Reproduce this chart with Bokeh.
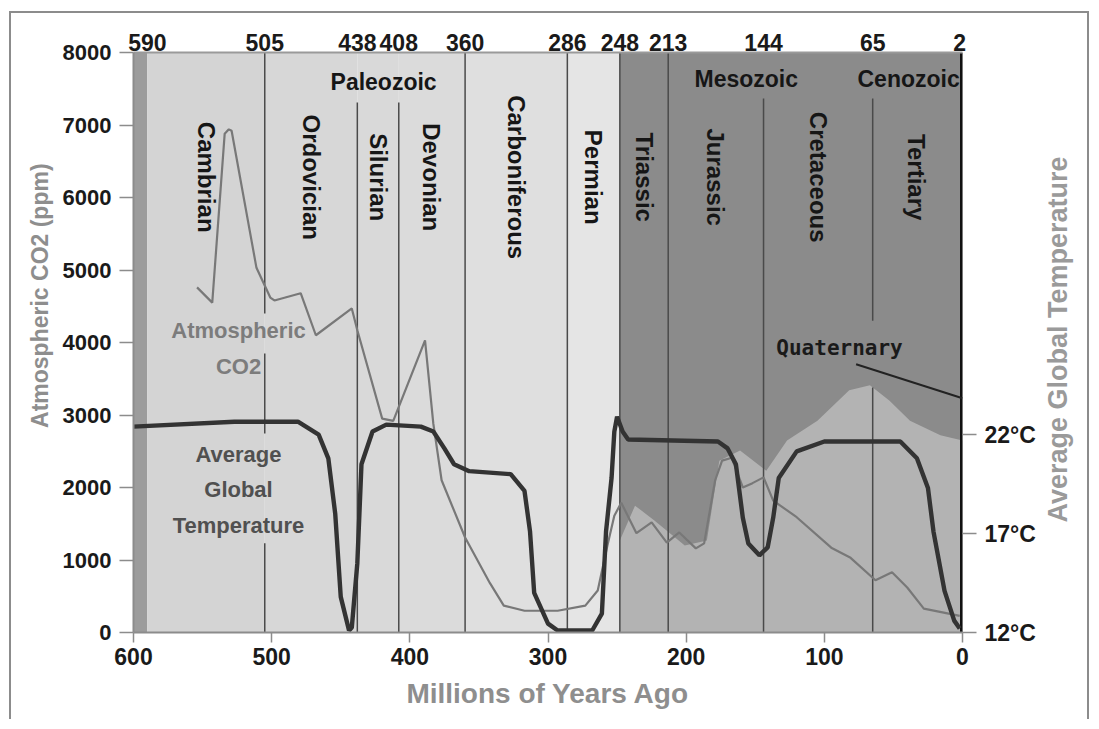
import math
from bokeh.plotting import figure
from bokeh.models import Range1d, LinearAxis, FixedTicker
from bokeh.core.properties import value
from bokeh.embed import file_html
from bokeh.resources import INLINE

# ---------------- data ----------------
boundaries = [590, 505, 438, 408, 360, 286, 248, 213, 144, 65, 2]
periods = ["Cambrian", "Ordovician", "Silurian", "Devonian", "Carboniferous",
           "Permian", "Triassic", "Jurassic", "Cretaceous", "Tertiary"]
eras = ["Paleozoic", "Mesozoic", "Cenozoic"]
era_start = [590, 248, 65]
era_end = [248, 65, 2]

x_ticks = [600, 500, 400, 300, 200, 100, 0]
co2_ticks = [0, 1000, 2000, 3000, 4000, 5000, 6000, 7000, 8000]
temp_ticks = [12, 17, 22]
temp_tick_labels = ["12°C", "17°C", "22°C"]

co2_age = [554, 543, 534, 531, 529, 511, 501, 498, 479, 468, 442, 438, 420, 412,
           389, 383, 377, 360, 342, 332, 317, 293, 273, 264, 257, 252, 247, 236,
           225, 214, 205, 193, 187, 179, 174, 167, 159, 152, 144, 137, 120, 95,
           81, 63, 51, 40, 28, 10, 2]
co2_ppm = [4760, 4550, 6880, 6940, 6920, 5030, 4620, 4580, 4680, 4100, 4470, 4170,
           2950, 2920, 4030, 2880, 2100, 1310, 680, 370, 300, 300, 370, 580, 1200,
           1610, 1790, 1370, 1520, 1240, 1380, 1160, 1230, 2100, 2370, 2410, 2000,
           2060, 2140, 1820, 1590, 1170, 1030, 720, 830, 620, 330, 260, 230]

temp_age = [600, 527, 481, 466, 459, 454, 450, 444, 442, 438, 435, 427, 417, 392,
            383, 375, 368, 357, 327, 317, 313, 310, 300, 293, 268, 261, 258, 254,
            252, 250, 246, 242, 177, 170, 164, 159, 155, 147, 141, 137, 133, 120,
            100, 45, 33, 25, 21, 13, 6, 2]
temp_c = [22.4, 22.65, 22.65, 22.0, 20.8, 18.0, 13.8, 12.1, 12.25, 15.5, 20.5, 22.15,
          22.5, 22.4, 22.15, 21.3, 20.5, 20.15, 20.0, 19.15, 17.1, 14.0, 12.45, 12.1,
          12.1, 12.95, 17.1, 19.8, 22.15, 22.9, 22.15, 21.75, 21.65, 21.3, 20.5, 17.8,
          16.5, 15.9, 16.3, 17.8, 19.8, 21.15, 21.65, 21.65, 20.8, 19.3, 17.1, 14.1,
          12.6, 12.2]

# lighter shading in the lower part of the Mesozoic / Cenozoic background
light_age = [248, 237, 223, 201, 185, 176, 161, 142, 127, 105, 82, 67, 53, 38, 16, 0]
light_ppm = [1270, 1750, 1545, 1200, 1270, 2370, 2510, 2230, 2650, 2920, 3340, 3410,
             3200, 2920, 2720, 2650]

quaternary_age = [77, 0]
quaternary_ppm = [3700, 3230]

# ---------------- figure ----------------
SANS = "Liberation Sans"

p = figure(width=1080, height=708, x_range=Range1d(600, 0), y_range=Range1d(0, 8000),
           output_backend="svg", toolbar_location=None,
           min_border_left=121, min_border_right=125, min_border_top=39, min_border_bottom=89)
p.extra_y_ranges = {"temp": Range1d(12, 41.3)}
p.grid.visible = False
p.outline_line_color = None
p.background_fill_color = "white"
p.border_fill_color = "white"
p.styles = {"margin-left": "9px", "margin-top": "11px",
            "border-top": "2px solid #8c8c8c", "border-left": "2px solid #8c8c8c",
            "border-right": "2px solid #8c8c8c"}

# background bands
p.quad(left=[600], right=[590], bottom=0, top=8000, fill_color="#9c9c9c", line_color=None)
pal_fill = ["#d4d4d4", "#d7d7d7", "#d9d9d9", "#dbdbdb", "#dfdfdf", "#e5e5e5"]
p.quad(left=boundaries[:6], right=boundaries[1:7], bottom=0, top=8000,
       fill_color=pal_fill, line_color=None)
p.quad(left=[248], right=[0], bottom=0, top=8000, fill_color="#8b8b8b", line_color=None)
p.varea(x=light_age, y1=[0] * len(light_age), y2=light_ppm, fill_color="#b3b3b3")

# period boundary lines (with gaps around labels)
spans = {505: [(0, 1230), (2745, 3850), (4400, 8000)], 438: [(0, 7310)], 408: [(0, 7310)],
         360: [(0, 8000)], 286: [(0, 8000)], 248: [(0, 8000)], 213: [(0, 8000)],
         144: [(0, 7365)], 65: [(0, 3380), (4300, 7365)]}
sx, sy0, sy1 = [], [], []
for b in boundaries:
    for (a, c) in spans.get(b, []):
        sx.append(b); sy0.append(a); sy1.append(c)
p.segment(x0=sx, x1=sx, y0=sy0, y1=sy1, line_color="#4a4a4a", line_width=1.5)
p.segment(x0=[0], x1=[0], y0=[0], y1=[8000], line_color="#111111", line_width=5)

# curves
p.line(co2_age, co2_ppm, line_color="#787878", line_width=2.2)
p.line(temp_age, temp_c, y_range_name="temp", line_color="#333333", line_width=4.4)

# quaternary pointer
p.line(quaternary_age, quaternary_ppm, line_color="#222222", line_width=2)

# period labels
mids = [(a + b) / 2 for a, b in zip(boundaries[:-1], boundaries[1:])]
p.text(x=mids, y=[6280] * len(mids), text=periods, angle=-math.pi / 2,
       text_align="center", text_baseline="middle", text_font=value(SANS),
       text_font_style="bold", text_font_size="24px", text_color="#161616")

# era labels
era_mid = [(a + b) / 2 for a, b in zip(era_start, era_end)]
p.text(x=era_mid[:2], y=[7600, 7640], text=eras[:2], text_align="center",
       text_baseline="middle", text_font=value(SANS), text_font_style="bold",
       text_font_size="23px", text_color="#161616")
p.text(x=[era_end[2]], y=[7640], text=[eras[2]], text_align="right",
       text_baseline="middle", text_font=value(SANS), text_font_style="bold",
       text_font_size="23px", text_color="#161616")

# series annotations
p.text(x=[524], y=[3917], text=["Atmospheric\nCO2"], text_align="center",
       text_baseline="middle", text_font=value(SANS), text_font_style="bold",
       text_font_size="22px", text_color="#7c7c7c", text_line_height=1.45)
p.text(x=[524], y=[1972], text=["Average\nGlobal\nTemperature"], text_align="center",
       text_baseline="middle", text_font=value(SANS), text_font_style="bold",
       text_font_size="22px", text_color="#505050", text_line_height=1.42)
p.text(x=[89], y=[3930], text=["Quaternary"], text_align="center",
       text_baseline="middle", text_font=value("DejaVu Sans Mono"), text_font_style="bold",
       text_font_size="21px", text_color="#1a1a1a")

# ---------------- axes ----------------
def style_axis(ax, size="23px"):
    ax.major_label_text_font = SANS
    ax.major_label_text_font_style = "bold"
    ax.major_label_text_font_size = size
    ax.major_label_text_color = "#1a1a1a"
    ax.minor_tick_line_color = None
    ax.major_tick_in = 0
    ax.axis_line_color = "#8c8c8c"
    ax.axis_line_width = 2
    ax.major_tick_line_color = "#8c8c8c"
    ax.major_tick_line_width = 1.5

yl = p.yaxis[0]
yl.ticker = FixedTicker(ticks=co2_ticks)
style_axis(yl, "22px")
yl.major_tick_out = 14
yl.major_label_standoff = 8

xb = p.xaxis[0]
xb.ticker = FixedTicker(ticks=x_ticks)
style_axis(xb)
xb.major_tick_out = 10
xb.major_label_standoff = 5
xb.axis_label = "Millions of Years Ago"
xb.axis_label_text_font = SANS
xb.axis_label_text_font_style = "bold"
xb.axis_label_text_font_size = "28px"
xb.axis_label_text_color = "#8e8e8e"
xb.axis_label_standoff = 10

xt = LinearAxis(ticker=FixedTicker(ticks=boundaries))
style_axis(xt)
xt.major_tick_out = 0
xt.major_tick_line_color = None
xt.major_label_standoff = 2
xt.axis_line_color = "#9a9a9a"
p.add_layout(xt, "above")

yr = LinearAxis(y_range_name="temp", ticker=FixedTicker(ticks=temp_ticks),
                major_label_overrides={t: l for t, l in zip(temp_ticks, temp_tick_labels)})
style_axis(yr)
yr.major_tick_out = 14
yr.major_label_standoff = 8
yr.axis_line_color = None
p.add_layout(yr, "right")


# axis titles as rotated single-tick labels (read bottom-to-top, like the reference)
def title_axis(text, at, size, color, standoff):
    ax = LinearAxis(ticker=FixedTicker(ticks=[at]), major_label_overrides={at: text},
                    major_label_orientation=math.pi / 2)
    ax.major_label_text_font = SANS
    ax.major_label_text_font_style = "bold"
    ax.major_label_text_font_size = size
    ax.major_label_text_color = color
    ax.major_label_standoff = standoff
    ax.major_tick_out = 0
    ax.major_tick_in = 0
    ax.major_tick_line_color = None
    ax.minor_tick_line_color = None
    ax.axis_line_color = None
    return ax


p.add_layout(title_axis("Atmospheric CO2 (ppm)", 6470, "23px", "#8e8e8e", 19), "left")
p.add_layout(title_axis("Average Global Temperature", 1517, "27px", "#9a9a9a", 20), "right")

open("out.html", "w").write(file_html(p, INLINE))
